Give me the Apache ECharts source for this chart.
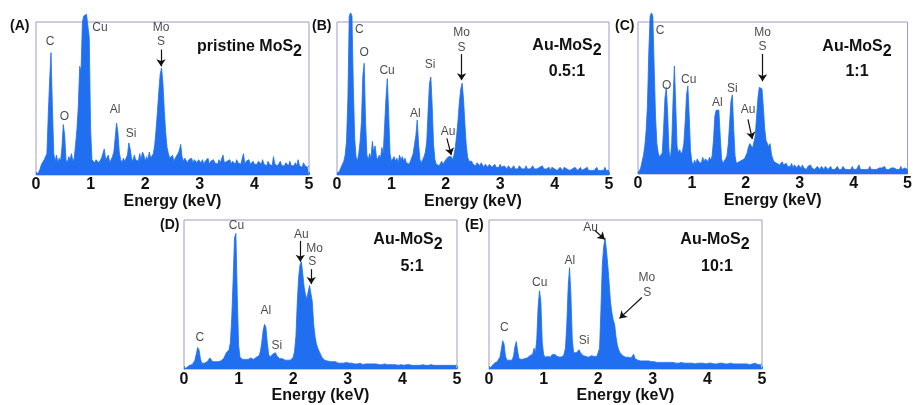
<!DOCTYPE html>
<html>
<head>
<meta charset="utf-8">
<script src="https://cdn.jsdelivr.net/npm/echarts@6/dist/echarts.min.js"></script>
<style>
  html, body { margin: 0; padding: 0; background: #fff; }
  #chart { width: 915px; height: 405px; }
</style>
</head>
<body>
<div id="chart"></div>
<script>
// EDS spectra, counts (0 = baseline, 100 = top of frame), step 0.025 keV
const STEP = 0.025;

const spectrumA = [
  0, 1, 2, 4, 7, 8, 10, 9, 14, 40,
  62, 80, 45, 14, 9, 13, 8, 11, 9, 18,
  33, 26, 10, 8, 12, 10, 14, 9, 11, 20,
  30, 45, 71, 68, 100, 104, 105, 105, 104, 90,
  30, 10, 9, 8, 10, 9, 8, 9, 11, 10,
  17, 10, 9, 13, 8, 9, 12, 15, 24, 34,
  28, 15, 10, 8, 11, 9, 10, 13, 21, 17,
  11, 9, 13, 10, 11, 9, 14, 10, 15, 13,
  9, 12, 10, 15, 11, 10, 14, 20, 30, 42,
  55, 66, 70, 60, 42, 28, 18, 14, 11, 10,
  13, 9, 11, 10, 14, 16, 20, 12, 9, 11,
  10, 8, 10, 9, 11, 8, 10, 9, 8, 10,
  9, 8, 10, 7, 9, 8, 11, 7, 9, 8,
  10, 8, 9, 7, 10, 8, 9, 13, 8, 7,
  9, 8, 10, 7, 9, 8, 7, 10, 8, 9,
  7, 8, 14, 7, 9, 8, 10, 7, 8, 9,
  7, 8, 7, 9, 8, 7, 10, 7, 8, 6,
  9, 7, 8, 6, 12, 7, 8, 6, 7, 9,
  6, 7, 6, 8, 7, 6, 9, 6, 7, 6,
  8, 6, 10, 6, 7, 5, 8, 6, 7, 5,
  6
];
const spectrumB = [
  0, 1, 3, 5, 7, 9, 13, 22, 50, 104,
  106, 104, 58, 24, 12, 9, 14, 22, 35, 65,
  73, 35, 13, 10, 14, 11, 22, 15, 19, 12,
  10, 13, 11, 18, 14, 32, 50, 63, 40, 14,
  9, 8, 12, 9, 11, 8, 13, 10, 12, 9,
  11, 8, 9, 7, 9, 10, 14, 20, 26, 36,
  20, 10, 8, 9, 12, 15, 22, 42, 60, 64,
  45, 20, 10, 7, 8, 6, 7, 9, 7, 8,
  10, 9, 12, 11, 12, 10, 13, 18, 26, 36,
  48, 56, 60, 50, 34, 20, 12, 9, 8, 9,
  7, 8, 6, 8, 7, 6, 8, 7, 5, 7,
  6, 5, 7, 6, 5, 6, 7, 5, 6, 5,
  7, 5, 4, 6, 5, 4, 6, 5, 4, 5,
  6, 4, 5, 4, 6, 5, 4, 5, 4, 6,
  4, 5, 4, 5, 6, 4, 5, 4, 4, 5,
  4, 6, 4, 5, 4, 4, 5, 3, 5, 4,
  4, 5, 3, 4, 5, 4, 3, 5, 4, 4,
  5, 3, 4, 4, 3, 5, 4, 3, 4, 5,
  3, 4, 4, 3, 5, 3, 4, 3, 4, 3,
  4, 5, 3, 4, 3, 4, 3, 5, 3, 4,
  3
];
const spectrumC = [
  0, 1, 4, 8, 12, 18, 28, 45, 80, 104,
  106, 104, 70, 38, 20, 14, 11, 10, 14, 30,
  50, 57, 40, 15, 10, 20, 48, 71, 45, 18,
  14, 16, 13, 15, 20, 34, 52, 58, 38, 15,
  8, 6, 9, 7, 10, 8, 9, 7, 11, 8,
  10, 9, 8, 11, 9, 12, 22, 38, 42, 41,
  42, 25, 10, 7, 8, 10, 12, 20, 34, 48,
  52, 30, 12, 7, 6, 8, 7, 9, 8, 10,
  9, 14, 18, 20, 19, 17, 18, 25, 38, 50,
  57, 58, 56, 44, 30, 22, 20, 18, 20, 13,
  10, 8, 9, 7, 8, 6, 7, 8, 6, 5,
  7, 5, 6, 5, 7, 4, 6, 5, 4, 6,
  5, 4, 6, 4, 5, 3, 5, 4, 6, 4,
  5, 3, 4, 5, 4, 3, 5, 4, 3, 5,
  4, 3, 4, 5, 3, 4, 3, 4, 5, 3,
  4, 3, 5, 4, 3, 4, 3, 4, 3, 5,
  3, 4, 3, 4, 6, 3, 4, 3, 4, 3,
  4, 3, 5, 3, 4, 3, 4, 3, 3, 4,
  3, 4, 3, 5, 3, 4, 3, 3, 4, 3,
  4, 3, 3, 4, 3, 5, 3, 3, 4, 3,
  3
];
const spectrumD = [
  0, 0.5, 1, 2, 2.5, 3, 3, 4, 6, 10,
  14.5, 13, 7, 4, 3.5, 4, 4, 5, 6, 7.5,
  7, 5, 4.5, 5, 5.5, 5, 6, 5.5, 6, 7,
  9, 11, 12, 13, 18, 35, 60, 88, 91, 50,
  16, 8, 7, 6.5, 7, 6.5, 7, 6.5, 7.5, 7.5,
  7, 6.5, 7.5, 8, 7, 9, 12, 18, 26, 30,
  28, 18, 10, 8, 8.5, 10, 11, 11, 9, 8,
  7, 6.5, 7, 6.5, 6, 6.5, 6, 6.5, 6, 6.5,
  8, 12, 22, 45, 62, 70, 72, 64, 55, 50,
  47, 52, 56, 57, 45, 30, 22, 17, 14, 12,
  10, 8, 7, 6, 6.5, 5.5, 6, 5, 5.5, 5,
  4.5, 5, 4.5, 4, 4.5, 4, 4.5, 4, 4, 4.5,
  3.5, 4, 3.5, 4, 3.5, 3.5, 4, 3.5, 3.5, 4,
  3.5, 3, 3.5, 3.5, 3, 3.5, 3, 3.5, 3, 3.5,
  3, 3.5, 3, 3, 3.5, 3, 3, 3.5, 3, 3,
  3.5, 3, 3, 3, 3.5, 3, 3, 2.5, 3, 3,
  3, 2.5, 3, 3, 2.5, 3, 3, 2.5, 3, 2.5,
  3, 2.5, 3, 2.5, 2.5, 3, 2.5, 2.5, 3, 2.5,
  2.5, 3, 2.5, 2.5, 3, 2.5, 2.5, 2.5, 3, 2.5,
  2.5, 2.5, 3, 2.5, 2.5, 2.5, 3, 2.5, 2.5, 2.5,
  2.5
];
const spectrumE = [
  0, 1, 2, 3, 4, 5, 5, 6, 8, 13,
  19, 17, 9, 6, 5, 6, 5.5, 6, 9, 15,
  18.5, 12, 7, 6, 6.5, 6, 7, 6.5, 7.5, 8,
  9, 8, 10, 14, 11, 20, 42, 52.6, 45, 18,
  10, 8, 9, 8.5, 9, 8, 9.5, 9, 10, 9,
  8.5, 9, 8, 9, 8.5, 10, 14, 30, 55, 68,
  50, 20, 11, 10, 11, 12, 13, 11, 10, 9,
  9, 8.5, 9, 8, 8.5, 9, 8, 8.5, 9, 8.5,
  9, 14, 40, 70, 82, 88, 80, 70, 58, 45,
  38, 33, 30, 22, 16, 13, 11, 10, 9, 8.5,
  8, 7.5, 8, 7, 7.5, 8, 10, 7, 6.5, 6,
  6, 5.5, 6, 5.5, 5, 5.5, 5, 5.5, 5, 5,
  4.5, 5, 4.5, 4.5, 5, 4.5, 4, 4.5, 5, 4.5,
  4, 4.5, 4, 4.5, 4, 4.5, 4, 4, 4.5, 4,
  4, 4.5, 4, 4, 3.5, 4, 4.5, 4, 3.5, 4,
  4, 3.5, 4, 4, 3.5, 4, 3.5, 4, 4.5, 3.5,
  3.5, 4, 3.5, 4, 3.5, 3.5, 4, 3.5, 3.5, 4,
  3.5, 4, 3.5, 3.5, 4, 3.5, 3.5, 4, 3.5, 3.5,
  3.5, 3.5, 4, 3.5, 3, 3.5, 4, 3.5, 3, 3.5,
  3.5, 3, 3.5, 3.5, 3, 4, 3.5, 3, 3.5, 3,
  3.5
];

// peak labels: [energy keV, height, element]
const labelsA = [[0.26, 87, 'C'], [0.52, 38, 'O'], [1.17, 96, 'Cu'], [1.45, 43, 'Al'], [1.74, 27, 'Si'], [2.29, 96, 'Mo'], [2.29, 87, 'S']];
const labelsB = [[0.41, 95, 'C'], [0.50, 80, 'O'], [0.92, 68, 'Cu'], [1.44, 40, 'Al'], [1.71, 72, 'Si'], [2.04, 28, 'Au'], [2.29, 93, 'Mo'], [2.29, 83, 'S']];
const labelsC = [[0.41, 94, 'C'], [0.53, 58, 'O'], [0.94, 62, 'Cu'], [1.47, 47, 'Al'], [1.75, 56, 'Si'], [2.04, 42, 'Au'], [2.31, 93, 'Mo'], [2.31, 84, 'S']];
const labelsD = [[0.29, 21, 'C'], [0.96, 96, 'Cu'], [1.50, 39, 'Al'], [1.70, 16, 'Si'], [2.15, 90, 'Au'], [2.39, 81, 'Mo'], [2.35, 72, 'S']];
const labelsE = [[0.28, 28, 'C'], [0.93, 58, 'Cu'], [1.48, 73, 'Al'], [1.74, 19, 'Si'], [1.86, 95, 'Au'], [2.89, 61, 'Mo'], [2.90, 51, 'S']];

// arrows: [x1, y1, x2, y2]
const arrowsA = [[2.29, 82, 2.29, 71]];
const arrowsB = [[2.02, 24, 2.10, 13], [2.29, 79, 2.29, 62]];
const arrowsC = [[2.04, 36, 2.12, 23], [2.31, 79, 2.31, 61]];
const arrowsD = [[2.13, 86, 2.13, 72], [2.33, 67, 2.33, 57]];
const arrowsE = [[1.94, 93, 2.12, 87], [2.80, 48, 2.39, 34]];

const panelLetters = ['(A)', '(B)', '(C)', '(D)', '(E)'];
const sampleNames = ['pristine MoS', 'Au-MoS', 'Au-MoS', 'Au-MoS', 'Au-MoS'];
const ratios = ['', '0.5:1', '1:1', '5:1', '10:1'];

const BLUE = '#1f6ff0';
const FONT = '"Liberation Sans", Arial, sans-serif';

const spectra = [spectrumA, spectrumB, spectrumC, spectrumD, spectrumE];
const labels = [labelsA, labelsB, labelsC, labelsD, labelsE];
const arrows = [arrowsA, arrowsB, arrowsC, arrowsD, arrowsE];

// frame of each panel in px
const boxes = [
  { left: 36, top: 22, width: 273, height: 153 },
  { left: 337, top: 22, width: 272, height: 153 },
  { left: 638, top: 22, width: 274, height: 152 },
  { left: 184, top: 220, width: 273, height: 153 },
  { left: 489, top: 220, width: 273, height: 153 }
];
const letterPos = [[10, 26], [312, 26], [615, 26], [160, 225], [465, 225]];
const namePos = [[302, 49, 'right'], [567, 48, 'center'], [857, 49, 'center'], [408, 242, 'center'], [715, 242, 'center']];
const ratioPos = [null, [567, 72], [857, 72], [412, 267], [717, 267]];

const chart = echarts.init(document.getElementById('chart'));

const grid = [], xAxis = [], yAxis = [], series = [], graphic = [];
boxes.forEach((b, k) => {
  grid.push({ ...b, show: true, borderColor: '#9a9ac6', borderWidth: 1, backgroundColor: 'transparent' });
  xAxis.push({
    gridIndex: k, type: 'value', min: 0, max: 5, interval: 1,
    axisLine: { show: false }, splitLine: { show: false },
    axisTick: { show: true, inside: true, length: 3, lineStyle: { color: '#5a78c8' } },
    axisLabel: { color: '#111', fontSize: 16, fontWeight: 'bold', fontFamily: FONT, margin: 2, showMinLabel: true, showMaxLabel: true },
    name: 'Energy (keV)', nameLocation: 'middle', nameGap: 17,
    nameTextStyle: { color: '#111', fontSize: 16, fontWeight: 'bold', fontFamily: FONT }
  });
  yAxis.push({ gridIndex: k, type: 'value', min: 0, max: 100, show: false });

  series.push({
    type: 'line', xAxisIndex: k, yAxisIndex: k,
    data: spectra[k].map((v, i) => [i * STEP, v]),
    showSymbol: false, clip: false, animation: false,
    lineStyle: { color: BLUE, width: 0.8 },
    areaStyle: { color: BLUE, opacity: 1 }
  });
  series.push({
    type: 'scatter', xAxisIndex: k, yAxisIndex: k, clip: false, animation: false, silent: true,
    symbolSize: 1, itemStyle: { color: 'transparent' },
    data: labels[k].map(d => ({ value: [d[0], d[1]], name: d[2] })),
    label: { show: true, position: 'inside', formatter: '{b}', color: '#1a1a1a', fontSize: 12, fontFamily: FONT },
    markLine: {
      silent: true, animation: false, symbol: ['none', 'arrow'], symbolSize: 7,
      label: { show: false },
      lineStyle: { color: '#111', width: 1.2, type: 'solid' },
      data: arrows[k].map(a => [{ coord: [a[0], a[1]] }, { coord: [a[2], a[3]] }])
    }
  });

  graphic.push({
    type: 'text', x: letterPos[k][0], y: letterPos[k][1],
    style: { text: panelLetters[k], font: 'bold 14px ' + FONT, fill: '#111', align: 'left', verticalAlign: 'middle' }
  });
  graphic.push({
    type: 'text', x: namePos[k][0], y: namePos[k][1],
    style: {
      text: '{b|' + sampleNames[k] + '}{s|2}', align: namePos[k][2], verticalAlign: 'middle', fill: '#111',
      rich: {
        b: { fontSize: 16, fontWeight: 'bold', fontFamily: FONT, verticalAlign: 'top', fill: '#111' },
        s: { fontSize: 16, fontWeight: 'bold', fontFamily: FONT, verticalAlign: 'top', padding: [5, 0, 0, 0], fill: '#111' }
      }
    }
  });
  if (ratioPos[k]) {
    graphic.push({
      type: 'text', x: ratioPos[k][0], y: ratioPos[k][1],
      style: { text: ratios[k], font: 'bold 16px ' + FONT, fill: '#111', align: 'center', verticalAlign: 'middle' }
    });
  }
});

chart.setOption({
  animation: false,
  textStyle: { fontFamily: FONT },
  grid, xAxis, yAxis, series, graphic
});
</script>
</body>
</html>
